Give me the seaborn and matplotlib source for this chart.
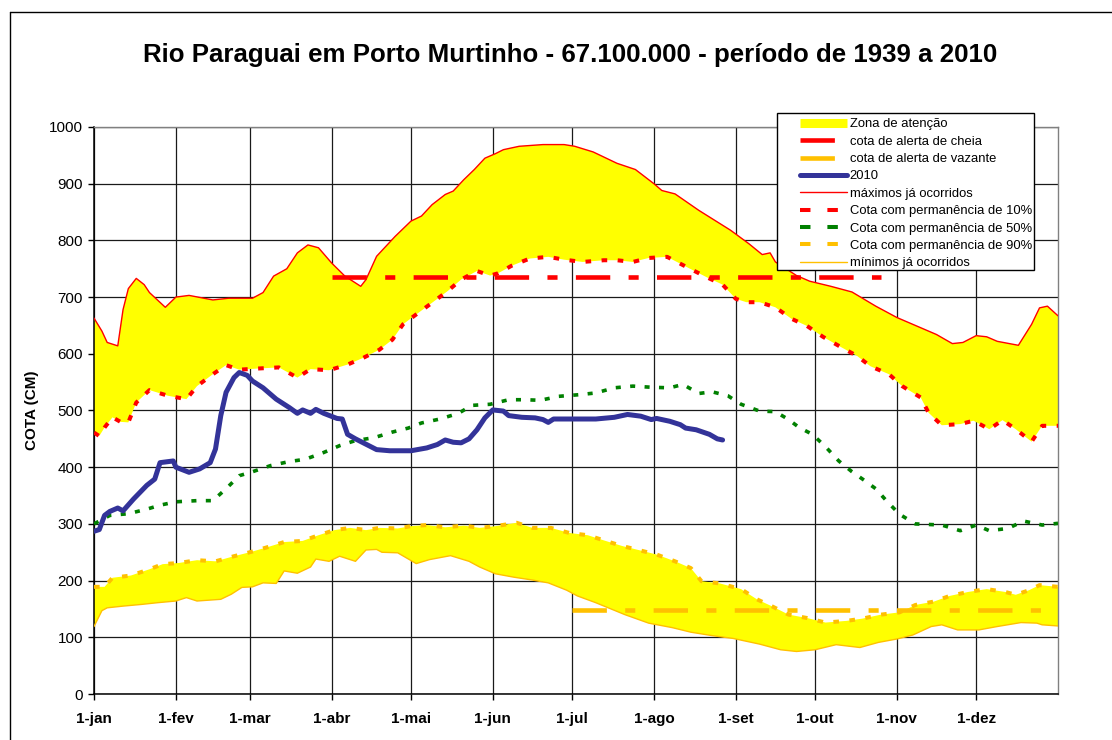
import matplotlib
matplotlib.use("Agg")
import matplotlib.pyplot as plt
from matplotlib.lines import Line2D
from matplotlib.patches import Rectangle
import seaborn as sns

# ── Data (day of year -> cota in cm) ──────────────────────────────────────────
TITLE = "Rio Paraguai em Porto Murtinho - 67.100.000 - período de 1939 a 2010"
MONTH_DAYS = [0, 31, 59, 90, 120, 151, 181, 212, 243, 273, 304, 334]
MONTH_LABELS = ["1-jan", "1-fev", "1-mar", "1-abr", "1-mai", "1-jun",
                "1-jul", "1-ago", "1-set", "1-out", "1-nov", "1-dez"]

MAX_DAYS = [0, 3, 5, 9, 11, 13, 16, 19, 21, 24, 27, 31, 36, 45, 51, 60, 64, 68,
            73, 77, 81, 85, 90, 95, 101, 103, 107, 114, 120, 124, 128, 133, 136,
            140, 144, 148, 152, 155, 161, 170, 178, 182, 189, 198, 205, 212, 215,
            220, 229, 241, 248, 253, 256, 258, 266, 271, 279, 287, 296, 304, 311,
            319, 325, 329, 334, 338, 342, 350, 355, 358, 361, 365]
MAX_VALS = [663, 640, 620, 614, 678, 715, 733, 722, 708, 695, 682, 700, 703, 695,
            698, 698, 708, 737, 750, 778, 792, 787, 760, 737, 719, 731, 772, 807,
            834, 843, 863, 881, 887, 907, 925, 945, 953, 960, 966, 969, 969, 966,
            956, 936, 925, 900, 888, 882, 853, 818, 794, 775, 778, 762, 738, 728,
            719, 709, 684, 664, 650, 634, 618, 620, 632, 630, 622, 615, 652, 681,
            684, 667]

P10_DAYS = [0, 2, 4, 7, 10, 13, 16, 21, 28, 35, 39, 45, 50, 55, 62, 70, 77, 82,
            89, 96, 102, 108, 113, 117, 121, 128, 134, 139, 145, 150, 153, 158,
            165, 172, 178, 185, 193, 198, 204, 210, 217, 224, 232, 238, 243, 247,
            252, 258, 264, 270, 276, 282, 289, 294, 301, 306, 313, 316, 321, 328,
            333, 339, 344, 349, 355, 359, 365]
P10_VALS = [461, 455, 470, 488, 480, 479, 514, 536, 526, 520, 543, 564, 580, 572,
            574, 576, 558, 573, 571, 581, 593, 607, 625, 652, 666, 690, 711, 731,
            746, 738, 742, 755, 768, 771, 766, 762, 765, 765, 762, 769, 771, 754,
            735, 722, 697, 691, 691, 682, 662, 649, 630, 614, 596, 578, 564, 543,
            523, 496, 474, 476, 482, 467, 483, 467, 445, 473, 473]

P50_DAYS = [0, 6, 13, 20, 25, 31, 39, 45, 50, 55, 60, 67, 74, 80, 87, 93, 99,
            106, 113, 119, 124, 131, 138, 143, 150, 157, 163, 169, 176, 184, 190,
            197, 204, 211, 218, 223, 229, 234, 240, 245, 252, 258, 263, 267, 272,
            277, 282, 287, 291, 296, 300, 305, 311, 316, 321, 328, 334, 339, 346,
            352, 359, 365]
P50_VALS = [300, 315, 318, 326, 333, 339, 341, 341, 362, 385, 392, 403, 410, 414,
            426, 438, 447, 452, 462, 469, 478, 485, 495, 509, 511, 519, 519, 518,
            525, 528, 531, 540, 543, 541, 540, 546, 530, 533, 526, 511, 499, 498,
            484, 470, 458, 436, 411, 392, 379, 362, 341, 317, 300, 299, 298, 288,
            298, 288, 292, 305, 298, 301]

P90_DAYS = [0, 4, 7, 14, 21, 26, 32, 39, 46, 53, 59, 65, 72, 79, 85, 91, 97, 103,
            108, 115, 120, 126, 133, 140, 146, 152, 160, 166, 173, 180, 187, 193,
            200, 207, 213, 220, 226, 230, 237, 245, 251, 257, 263, 270, 277, 285,
            291, 298, 305, 311, 318, 324, 331, 338, 345, 349, 354, 358, 365]
P90_VALS = [189, 189, 205, 209, 220, 229, 231, 236, 234, 243, 250, 258, 268, 270,
            280, 289, 293, 289, 293, 292, 296, 298, 294, 297, 293, 296, 302, 293,
            293, 284, 280, 271, 261, 253, 246, 234, 222, 199, 195, 185, 167, 154,
            140, 134, 126, 129, 133, 140, 144, 157, 163, 173, 180, 185, 180, 175,
            183, 192, 189]

MIN_DAYS = [0, 3, 5, 11, 18, 24, 31, 35, 39, 48, 52, 56, 60, 64, 69, 72, 77, 82,
            84, 89, 93, 99, 103, 107, 109, 115, 122, 127, 135, 142, 146, 152, 159,
            166, 172, 179, 183, 190, 201, 210, 219, 226, 234, 242, 252, 260, 266,
            273, 281, 290, 297, 304, 310, 317, 321, 327, 335, 342, 351, 357, 359,
            365]
MIN_VALS = [119, 147, 152, 155, 158, 161, 164, 170, 164, 167, 176, 188, 189, 196,
            195, 217, 213, 224, 238, 234, 243, 234, 254, 255, 250, 249, 230, 237,
            244, 234, 224, 212, 206, 201, 196, 183, 173, 161, 140, 125, 117, 109,
            103, 98, 88, 78, 75, 78, 87, 82, 91, 97, 104, 119, 122, 113, 113, 119,
            126, 125, 122, 120]

Y2010_DAYS = [0, 2, 4, 6, 9, 11, 15, 20, 23, 25, 30, 31, 36, 40, 44, 46, 48, 50,
              53, 55, 58, 60, 64, 69, 74, 77, 79, 82, 84, 87, 92, 94, 96, 99, 107,
              112, 120, 126, 130, 133, 136, 139, 142, 145, 148, 151, 155, 157, 162,
              167, 170, 172, 174, 182, 190, 197, 202, 207, 211, 213, 218, 222, 224,
              228, 233, 236, 238]
Y2010_VALS = [287, 290, 315, 322, 328, 323, 344, 368, 379, 408, 411, 400, 391, 397,
              408, 432, 491, 532, 558, 567, 562, 552, 540, 520, 505, 495, 501, 495,
              502, 495, 486, 485, 458, 450, 431, 429, 429, 434, 440, 448, 444, 443,
              450, 466, 487, 501, 499, 491, 488, 487, 484, 479, 485, 485, 485, 488,
              493, 490, 484, 486, 481, 475, 469, 466, 458, 450, 448]

CHEIA_DAYS = [90, 298]
CHEIA_VALS = [735, 735]
VAZANTE_DAYS = [181, 365]
VAZANTE_VALS = [148, 148]

# ── Style ──────────────────────────────────────────────────────────────────────
sns.set_theme(style="white")
plt.rcParams["font.family"] = ["Liberation Sans", "DejaVu Sans"]
plt.rcParams.update({"text.color": "black", "axes.labelcolor": "black",
                     "xtick.color": "black", "ytick.color": "black"})

YELLOW = "#FFFF00"
RED = "#FF0000"
ORANGE = "#FFC000"
GREEN = "#008000"
BLUE = "#333399"
ALERT_LS = (0, (7.5, 4.0, 2.2, 4.0))
DOT_LS = (0, (1.4, 2.6))
LEG_DOT_LS = (0, (2.6, 4.2))

W, H = 1112, 740
fig = plt.figure(figsize=(W / 100, H / 100), dpi=100)
ax = fig.add_axes([94 / W, 1 - 694 / H, (1058 - 94) / W, (694 - 127) / H])

# attention zones
ax.fill(MAX_DAYS + P10_DAYS[::-1], MAX_VALS + P10_VALS[::-1],
        color=YELLOW, lw=0, zorder=1)
ax.fill(P90_DAYS + MIN_DAYS[::-1], P90_VALS + MIN_VALS[::-1],
        color=YELLOW, lw=0, zorder=1)

sns.lineplot(x=MAX_DAYS, y=MAX_VALS, ax=ax, color=RED, lw=1.0, zorder=3)
sns.lineplot(x=MIN_DAYS, y=MIN_VALS, ax=ax, color=ORANGE, lw=1.0, zorder=3)
sns.lineplot(x=P10_DAYS, y=P10_VALS, ax=ax, color=RED, lw=2.9, ls=DOT_LS, zorder=3)
sns.lineplot(x=P50_DAYS, y=P50_VALS, ax=ax, color=GREEN, lw=2.6, ls=DOT_LS, zorder=3)
sns.lineplot(x=P90_DAYS, y=P90_VALS, ax=ax, color=ORANGE, lw=2.9, ls=DOT_LS, zorder=3)
sns.lineplot(x=CHEIA_DAYS, y=CHEIA_VALS, ax=ax, color=RED, lw=3.3, ls=ALERT_LS, zorder=4)
sns.lineplot(x=VAZANTE_DAYS, y=VAZANTE_VALS, ax=ax, color=ORANGE, lw=3.3, ls=ALERT_LS, zorder=4)
sns.lineplot(x=Y2010_DAYS, y=Y2010_VALS, ax=ax, color=BLUE, lw=3.6, zorder=5,
             solid_capstyle="round", solid_joinstyle="round")

ax.set_xlim(0, 365)
ax.set_ylim(0, 1000)
ax.set_xticks(MONTH_DAYS)
ax.set_xticklabels(MONTH_LABELS, fontsize=11, fontweight="bold")
ax.set_yticks(range(0, 1001, 100))
ax.tick_params(axis="y", labelsize=11, length=4, width=1, pad=4, direction="out", left=True)
ax.tick_params(axis="x", length=4, width=1, pad=9, direction="out", bottom=True)
ax.grid(True, color="#1a1a1a", lw=0.9, zorder=0)
ax.set_axisbelow(True)
ax.set_ylabel("COTA (CM)", fontsize=11, fontweight="bold", labelpad=7)
ax.set_xlabel("")
for side in ["left", "bottom"]:
    ax.spines[side].set_color("black")
    ax.spines[side].set_linewidth(1.1)
for side in ["top", "right"]:
    ax.spines[side].set_color("#808080")
    ax.spines[side].set_linewidth(1.0)

fig.text(570 / W, 1 - 55 / H, TITLE, ha="center", va="center",
         fontsize=18.6, fontweight="bold", color="black")

# outer chart frame (open on right and bottom, as in the cropped original)
fig.add_artist(Line2D([10 / W, 10 / W], [0, 1 - 12 / H], transform=fig.transFigure,
                      color="black", lw=1.0))
fig.add_artist(Line2D([10 / W, 1], [1 - 12 / H, 1 - 12 / H], transform=fig.transFigure,
                      color="black", lw=1.0))

# legend box
fig.add_artist(Rectangle((777 / W, 1 - 270 / H), (1034 - 777) / W, (270 - 113) / H,
                         transform=fig.transFigure, facecolor="white",
                         edgecolor="black", lw=1.0, zorder=8))
handles = [
    Line2D([], [], color=YELLOW, lw=6.5, solid_capstyle="butt"),
    Line2D([], [], color=RED, lw=3.3, ls=ALERT_LS),
    Line2D([], [], color=ORANGE, lw=3.3, ls=ALERT_LS),
    Line2D([], [], color=BLUE, lw=3.6, solid_capstyle="round"),
    Line2D([], [], color=RED, lw=1.0),
    Line2D([], [], color=RED, lw=2.9, ls=LEG_DOT_LS),
    Line2D([], [], color=GREEN, lw=2.9, ls=LEG_DOT_LS),
    Line2D([], [], color=ORANGE, lw=2.9, ls=LEG_DOT_LS),
    Line2D([], [], color=ORANGE, lw=1.0),
]
labels = ["Zona de atenção", "cota de alerta de cheia", "cota de alerta de vazante",
          "2010", "máximos já ocorridos", "Cota com permanência de 10%",
          "Cota com permanência de 50%", "Cota com permanência de 90%",
          "mínimos já ocorridos"]
leg = fig.legend(handles, labels, loc="upper left",
                 bbox_to_anchor=(795 / W, 1 - 113 / H), bbox_transform=fig.transFigure,
                 frameon=False, fontsize=9.4, handlelength=3.6, handletextpad=0.2,
                 labelspacing=0.4, borderpad=0.4, borderaxespad=0)
leg.set_zorder(9)

fig.savefig("out.png", dpi=100)
